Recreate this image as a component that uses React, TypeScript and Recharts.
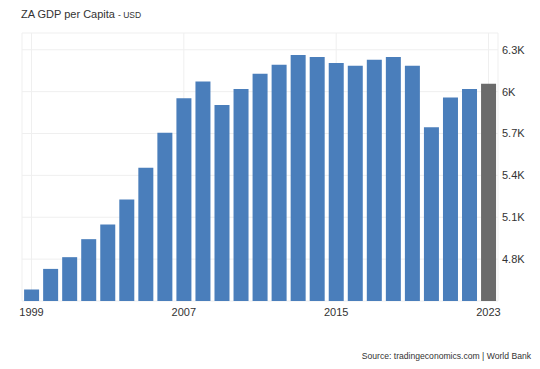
import { BarChart, Bar, XAxis, YAxis, CartesianGrid, Cell } from "recharts"

const years = [
  "1999", "2000", "2001", "2002", "2003", "2004", "2005", "2006", "2007", "2008",
  "2009", "2010", "2011", "2012", "2013", "2014", "2015", "2016", "2017", "2018",
  "2019", "2020", "2021", "2022", "2023",
]

const gdpPerCapita = [
  4582, 4730, 4814, 4943, 5048, 5228, 5455, 5706, 5953, 6072,
  5905, 6018, 6128, 6192, 6262, 6248, 6205, 6185, 6228, 6248,
  6185, 5745, 5958, 6018, 6056,
]

const yTicks = [4800, 5100, 5400, 5700, 6000, 6300]

const data = years.map((year, i) => ({ year, value: gdpPerCapita[i] }))

const font = "'Liberation Sans', Arial, sans-serif"

export default function App() {
  return (
    <div style={{ position: "absolute", left: 0, top: 0, width: 540, height: 369, background: "#fff", fontFamily: font }}>
      <div style={{ position: "absolute", left: 21, top: 8, fontSize: 11, color: "#333", whiteSpace: "nowrap" }}>
        ZA GDP per Capita <span style={{ fontSize: 8.5 }}>- USD</span>
      </div>
      <BarChart
        width={540}
        height={369}
        data={data}
        margin={{ top: 33, right: 2, left: 22, bottom: 38 }}
        barCategoryGap="11%"
      >
        <CartesianGrid stroke="#efefef" />
        <XAxis
          dataKey="year"
          interval={7}
          axisLine={false}
          tickLine={false}
          height={30}
          tick={{ fontSize: 11, fill: "#333", fontFamily: font }}
          tickMargin={1}
        />
        <YAxis
          orientation="right"
          domain={[4500, 6420]}
          ticks={yTicks}
          width={40}
          axisLine={false}
          tickLine={false}
          tickSize={0}
          tickMargin={4}
          tickFormatter={(v) => `${+(v / 1000).toFixed(1)}K`}
          tick={{ fontSize: 11, fill: "#333", fontFamily: font }}
        />
        <Bar dataKey="value" isAnimationActive={false}>
          {data.map((d, i) => (
            <Cell key={d.year} fill={i === data.length - 1 ? "#6b6b6b" : "#4a7ebb"} />
          ))}
        </Bar>
      </BarChart>
      <div style={{ position: "absolute", right: 9, top: 351, fontSize: 8.6, color: "#333", whiteSpace: "nowrap" }}>
        Source: tradingeconomics.com | World Bank
      </div>
    </div>
  )
}
